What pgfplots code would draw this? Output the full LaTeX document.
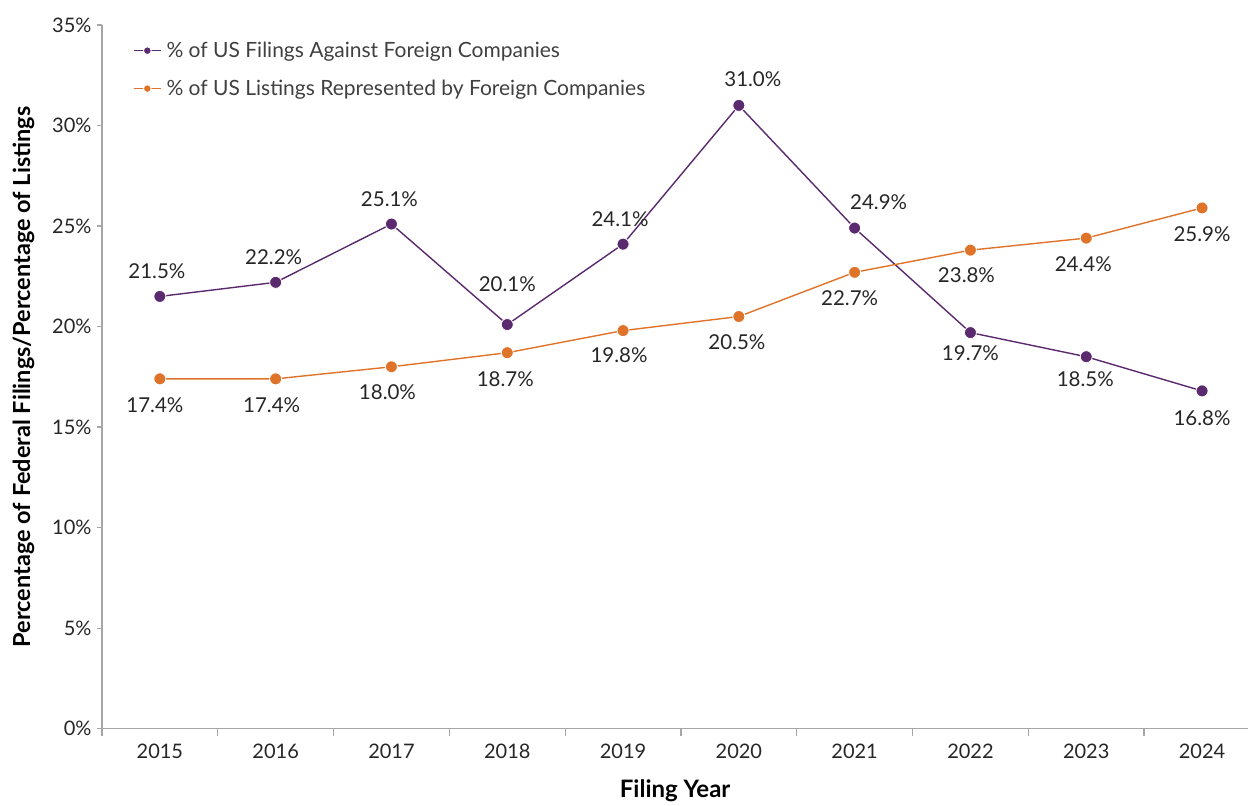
\documentclass[border=0pt]{standalone}
\usepackage{pgfplots}
\pgfplotsset{compat=1.18}
\usepackage{pgfplotstable}
\usepackage{fontspec}
\setmainfont{Lato}
\definecolor{cpurple}{HTML}{5B2A6E}
\definecolor{corange}{HTML}{E0732A}
\definecolor{caxis}{HTML}{A6A6A6}
\definecolor{ctext}{HTML}{262626}
\definecolor{clegend}{HTML}{404040}

\pgfplotstableread{
x y dx dy
0 21.5 -3 25
1 22.2 -2 25
2 25.1 -2 25
3 20.1 0 40
4 24.1 -3 25
5 31.0 14 26
6 24.9 24 26
7 19.7 0 -21
8 18.5 -1 -22
9 16.8 0 -27
}\filings

\pgfplotstableread{
x y dx dy
0 17.4 -5 -26
1 17.4 -4 -26
2 18.0 -4 -25
3 18.7 -2 -26
4 19.8 -4 -25
5 20.5 -2 -26
6 22.7 -5 -26
7 23.8 -4 -25
8 24.4 -3 -26
9 25.9 0 -26
}\listings

\begin{document}
\begin{tikzpicture}
\begin{axis}[
  scale only axis,
  width=1147pt, height=704pt,
  xmin=-0.5, xmax=9.4,
  ymin=0, ymax=35,
  clip=false,
  axis x line*=bottom,
  axis y line*=left,
  axis line style={draw=caxis, line width=1.3pt},
  xtick={0,...,9},
  xticklabels={2015,2016,2017,2018,2019,2020,2021,2022,2023,2024},
  minor xtick={-0.5,0.5,...,8.5},
  major x tick style={draw=none},
  minor x tick style={draw=caxis, line width=1.3pt},
  minor tick length=7pt,
  ytick={0,5,...,35},
  yticklabel={\pgfmathprintnumber{\tick}\%},
  major y tick style={draw=caxis, line width=1.3pt},
  major tick length=5pt,
  tick align=outside,
  /pgf/number format/assume math mode=true,
  tick label style={font=\fontsize{20}{24}\selectfont, text=ctext},
  xticklabel style={yshift=-7pt},
  yticklabel style={xshift=-2pt},
  xlabel={Filing Year},
  ylabel={Percentage of Federal Filings/Percentage of Listings},
  label style={text=black},
  xlabel style={yshift=-14pt, font=\fontsize{24}{28}\selectfont\bfseries},
  ylabel style={yshift=11pt, font=\fontsize{23.5}{27}\selectfont\bfseries},
  legend style={at={(rel axis cs:0,1)}, anchor=north west, xshift=31pt, yshift=-15pt,
    draw=none, fill=none, inner sep=0pt,
    font=\fontsize{21}{25}\selectfont, text=clegend,
    row sep=17pt, column sep=3pt},
  legend cell align=left,
  legend image code/.code={\draw[mark repeat=2,mark phase=2,#1, mark size=3.8pt] plot coordinates {(0pt,0pt) (13.5pt,0pt) (27pt,0pt)};},
  every axis plot/.append style={line width=1.4pt},
  nodes near coords={\pgfmathprintnumber[fixed,fixed zerofill,precision=1,assume math mode=true]{\pgfplotspointmeta}\%},
  nodes near coords style={font=\fontsize{20.5}{24}\selectfont, text=ctext, anchor=center, xshift=\dx, yshift=\dy},
  visualization depends on={\thisrow{dx}\as\dx},
  visualization depends on={\thisrow{dy}\as\dy},
  point meta=y,
]
\addplot[color=cpurple, mark=*, mark size=6pt, mark options={draw=white, line width=0.8pt, fill=cpurple}] table[x=x,y=y] {\filings};
\addlegendentry{\% of US Filings Against Foreign Companies}
\addplot[color=corange, mark=*, mark size=6pt, mark options={draw=white, line width=0.8pt, fill=corange}] table[x=x,y=y] {\listings};
\addlegendentry{\% of US Listings Represented by Foreign Companies}
\end{axis}
\path (current axis.south west) ++(-102pt,-71pt);
\path (current axis.north east) ++(0pt,25pt);
\end{tikzpicture}
\end{document}
